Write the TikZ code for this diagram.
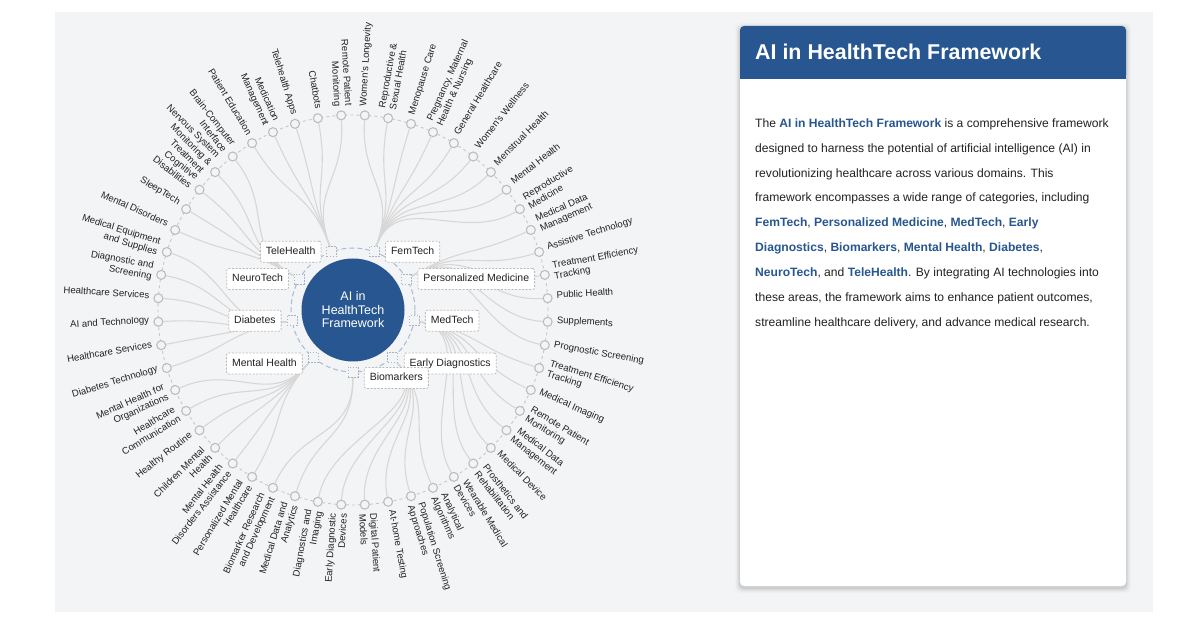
\documentclass[tikz,border=0pt]{standalone}
\usepackage{fontspec}
\setmainfont{Liberation Sans}
\usetikzlibrary{calc}
\definecolor{hcblue}{HTML}{285690}
\definecolor{panel}{HTML}{F3F4F6}
\definecolor{linkc}{HTML}{D7D7D7}
\definecolor{leafc}{HTML}{BDBDBD}
\definecolor{ringc}{HTML}{C8C8C8}
\definecolor{hubring}{HTML}{A7BBD3}
\definecolor{sqc}{HTML}{A9B4C2}
\definecolor{boxc}{HTML}{BBBBBB}
\definecolor{txt}{HTML}{222222}
\pgfdeclarelayer{back}
\pgfdeclarelayer{links}
\pgfsetlayers{back,links,main}
\newcommand\kw[1]{{\color{hcblue}\bfseries #1}}
\begin{document}
\begin{tikzpicture}[x=1pt,y=-1pt,
  leaf/.style={circle, draw=leafc, fill=panel, line width=1.1pt, minimum size=9pt, inner sep=0pt},
  leaftext/.style={inner sep=0pt, font=\fontsize{9.6}{11}\selectfont, text=txt},
  link/.style={draw=linkc, line width=1.1pt},
  catsq/.style={draw=sqc, dash pattern=on 1.5pt off 1.5pt, fill=panel, line width=0.8pt, minimum size=10pt, inner sep=0pt},
  catbox/.style={draw=boxc, dash pattern=on 2pt off 1.5pt, fill=white, rounded corners=2pt, line width=0.8pt,
    font=\fontsize{10.5}{12}\selectfont, text=txt, inner xsep=5.5pt, inner ysep=0pt, minimum height=21pt,
    text height=7.6pt, text depth=2.2pt},
  bodytext/.style={anchor=base west, inner sep=0pt, font=\fontsize{12.1}{14}\selectfont, text=txt}]
\useasboundingbox (0,0) rectangle (1200,628);
\begin{pgfonlayer}{back}
  \fill[white] (0,0) rectangle (1200,628);
  \fill[panel] (55,12) rectangle (1153,612);
\end{pgfonlayer}

% ---------- right card ----------
\foreach \s/\o in {5/0.015,4/0.02,3/0.03,2/0.04,1/0.05}
  \fill[black, opacity=\o, rounded corners=5pt] (740-\s,26-\s+2) rectangle (1126+\s,586+\s+2);
\fill[white, rounded corners=4pt] (740,26) rectangle (1126,586);
\fill[hcblue, rounded corners=4pt] (740,26) rectangle (1126,79);
\fill[hcblue] (740,68) rectangle (1126,79);
\node[anchor=base west, inner sep=0pt, font=\fontsize{21.4}{25}\selectfont\bfseries, text=white] (title) at (755,60) {AI in HealthTech Framework};
\node[bodytext] (b1) at (755,127.3) {The \kw{AI in HealthTech Framework} is a comprehensive framework};
\node[bodytext] (b2) at (755,152.2) {designed to harness the potential of artificial intelligence (AI) in};
\node[bodytext] (b3) at (755,177.1) {revolutionizing healthcare across various domains. This};
\node[bodytext] (b4) at (755,202.0) {framework encompasses a wide range of categories, including};
\node[bodytext] (b5) at (755,226.9) {\kw{FemTech}, \kw{Personalized Medicine}, \kw{MedTech}, \kw{Early}};
\node[bodytext] (b6) at (755,251.8) {\kw{Diagnostics}, \kw{Biomarkers}, \kw{Mental Health}, \kw{Diabetes},};
\node[bodytext] (b7) at (755,276.7) {\kw{NeuroTech}, and \kw{TeleHealth}. By integrating AI technologies into};
\node[bodytext] (b8) at (755,301.6) {these areas, the framework aims to enhance patient outcomes,};
\node[bodytext] (b9) at (755,326.5) {streamline healthcare delivery, and advance medical research.};

% ---------- radial tree ----------
\begin{scope}[shift={(353,310)}, y=1pt]
  \begin{pgfonlayer}{links}
    \draw[ringc, dash pattern=on 3pt off 3pt, line width=0.9pt] (0,0) circle[radius=195];
  \end{pgfonlayer}
  \draw[hubring, dash pattern=on 5pt off 3pt, line width=1pt] (0,0) circle[radius=62];
  \foreach \cang in {70,30,350,310,270,230,190,150,110}
    \node[catsq] (cat\cang) at (\cang:62) {};

  \foreach \kk/\cang/\txt in {
    0/70/{Women's Longevity},
    1/70/{Reproductive \&\\Sexual Health},
    2/70/{Menopause Care},
    3/70/{Pregnancy, Maternal\\Health \& Nursing},
    4/70/{General Healthcare},
    5/70/{Women's Wellness},
    6/70/{Menstrual Health},
    7/70/{Mental Health},
    8/70/{Reproductive\\Medicine},
    9/30/{Medical Data\\Management},
    10/30/{Assistive Technology},
    11/30/{Treatment Efficiency\\Tracking},
    12/30/{Public Health},
    13/30/{Supplements},
    14/30/{Prognostic Screening},
    15/350/{Treatment Efficiency\\Tracking},
    16/350/{Medical Imaging},
    17/350/{Remote Patient\\Monitoring},
    18/350/{Medical Data\\Management},
    19/350/{Medical Device},
    20/350/{Prosthetics and\\Rehabilitation},
    21/350/{Wearable Medical\\Devices},
    22/310/{Analytical\\Algorithms},
    23/310/{Population Screening\\Approaches},
    24/310/{At-home Testing},
    25/310/{Digital Patient\\Models},
    26/310/{Early Diagnostic\\Devices},
    27/310/{Diagnostics and\\Imaging},
    28/270/{Medical Data and\\Analytics},
    29/270/{Biomarker Research\\and Development},
    30/230/{Personalized Mental\\Healthcare},
    31/230/{Mental Health\\Disorders Assistance},
    32/230/{Children Mental\\Health},
    33/230/{Healthy Routine},
    34/230/{Healthcare\\Communication},
    35/230/{Mental Health for\\Organizations},
    36/190/{Diabetes Technology},
    37/190/{Healthcare Services},
    38/190/{AI and Technology},
    39/190/{Healthcare Services},
    40/190/{Diagnostic and\\Screening},
    41/190/{Medical Equipment\\and Supplies},
    42/150/{Mental Disorders},
    43/150/{SleepTech},
    44/150/{Cognitive\\Disabilities},
    45/150/{Nervous System\\Monitoring \&\\Treatment},
    46/150/{Brain-Computer\\Interface},
    47/110/{Patient Education},
    48/110/{Medication\\Management},
    49/110/{Telehealth Apps},
    50/110/{Chatbots},
    51/110/{Remote Patient\\Monitoring}} {
    \pgfmathsetmacro\ang{86.5385-6.92308*\kk}
    \node[leaf] (L\kk) at (\ang:195) {};
    \ifnum\kk<26
      \node[leaftext, anchor=base west, rotate=\ang] (T\kk) at ($(\ang:204)+(\ang-90:1)$)
        {\begin{tabular}{@{}l@{}}\txt\end{tabular}};
    \else
      \pgfmathsetmacro\rot{\ang+180}
      \node[leaftext, anchor=base east, rotate=\rot] (T\kk) at ($(\ang:204)+(\ang+90:1)$)
        {\begin{tabular}{@{}r@{}}\txt\end{tabular}};
    \fi
    \begin{pgfonlayer}{links}
      \draw[link] (cat\cang) .. controls (\cang:128.5) and (\ang:128.5) .. (L\kk);
    \end{pgfonlayer}
  }

  \node[circle, fill=hcblue, minimum size=103pt, inner sep=0pt, text=white, align=center,
        font=\fontsize{12.5}{13.5}\selectfont] (hub) at (0,0) {AI in\\HealthTech\\Framework};

  \node[catbox, anchor=west] (lb70)  at ($(cat70.east)+(5.5,0)$) {FemTech};
  \node[catbox, anchor=west] (lb30)  at ($(cat30.east)+(5.5,0)$) {Personalized Medicine};
  \node[catbox, anchor=west] (lb350) at ($(cat350.east)+(5.5,0)$) {MedTech};
  \node[catbox, anchor=west] (lb310) at ($(cat310.east)+(5.5,-6)$) {Early Diagnostics};
  \node[catbox, anchor=west] (lb270) at ($(cat270.east)+(5.5,-6)$) {Biomarkers};
  \node[catbox, anchor=east] (lb230) at ($(cat230.west)+(-5,-6)$) {Mental Health};
  \node[catbox, anchor=east] (lb190) at ($(cat190.west)+(-5,0)$) {Diabetes};
  \node[catbox, anchor=east] (lb150) at ($(cat150.west)+(-5,0)$) {NeuroTech};
  \node[catbox, anchor=east] (lb110) at ($(cat110.west)+(-5,0)$) {TeleHealth};
\end{scope}
\end{tikzpicture}
\end{document}
